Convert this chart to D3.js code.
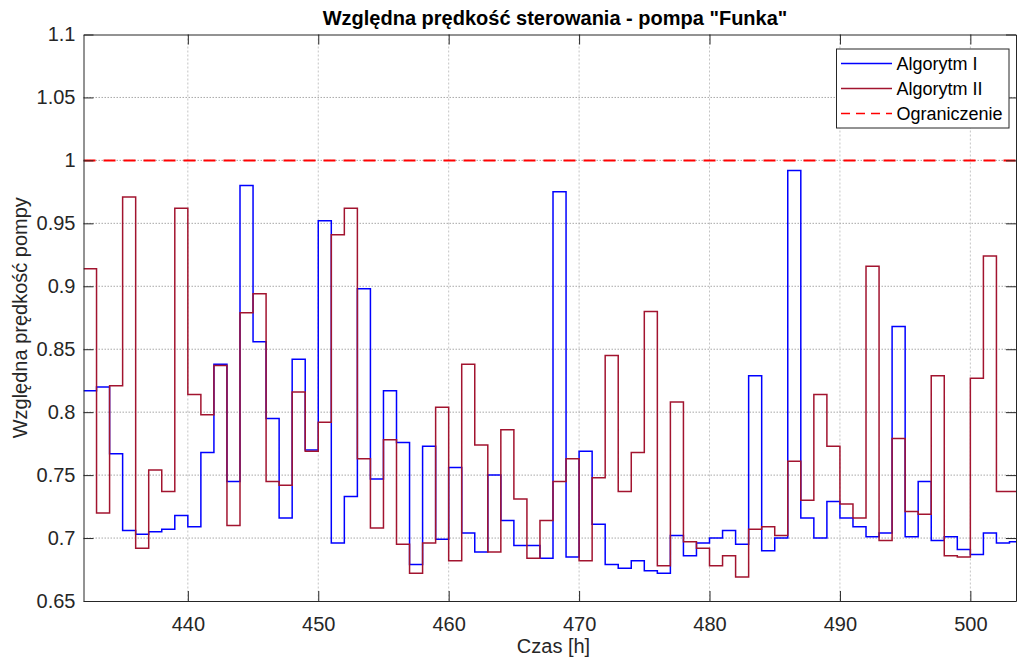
<!DOCTYPE html>
<html>
<head>
<meta charset="utf-8">
<script src="https://cdn.jsdelivr.net/npm/d3@7"></script>
<style>
  body { margin: 0; background: #fff; }
  text { font-family: "Liberation Sans", Arial, sans-serif; }
</style>
</head>
<body>
<script>
// hourly values, first hour = 432
const startHour = 432;
const algorytm1 = [
  0.817, 0.820, 0.767, 0.706, 0.703, 0.705, 0.707, 0.718, 0.709, 0.768,
  0.838, 0.745, 0.980, 0.856, 0.795, 0.716, 0.842, 0.770, 0.952, 0.696,
  0.733, 0.898, 0.747, 0.817, 0.776, 0.679, 0.773, 0.699, 0.756, 0.704,
  0.689, 0.750, 0.714, 0.694, 0.694, 0.684, 0.975, 0.685, 0.769, 0.711,
  0.679, 0.676, 0.682, 0.674, 0.672, 0.702, 0.686, 0.696, 0.700, 0.706,
  0.695, 0.829, 0.690, 0.700, 0.992, 0.716, 0.700, 0.729, 0.716, 0.709,
  0.701, 0.704, 0.868, 0.701, 0.745, 0.698, 0.701, 0.691, 0.687, 0.704,
  0.696, 0.697
];
const algorytm2 = [
  0.914, 0.720, 0.821, 0.971, 0.692, 0.754, 0.737, 0.962, 0.814, 0.798,
  0.837, 0.710, 0.879, 0.894, 0.745, 0.742, 0.816, 0.769, 0.792, 0.941,
  0.962, 0.763, 0.708, 0.778, 0.695, 0.672, 0.696, 0.804, 0.682, 0.838,
  0.774, 0.689, 0.786, 0.731, 0.684, 0.714, 0.745, 0.763, 0.682, 0.748,
  0.845, 0.737, 0.768, 0.880, 0.678, 0.808, 0.697, 0.692, 0.678, 0.686,
  0.669, 0.707, 0.709, 0.702, 0.761, 0.730, 0.814, 0.773, 0.727, 0.716,
  0.916, 0.698, 0.779, 0.721, 0.719, 0.829, 0.686, 0.685, 0.827, 0.924,
  0.737, 0.737
];
const ograniczenie = 1.0;
const xTicks = [440, 450, 460, 470, 480, 490, 500];
const yTicks = [0.65, 0.7, 0.75, 0.8, 0.85, 0.9, 0.95, 1, 1.05, 1.1];
const seriesNames = ["Algorytm I", "Algorytm II", "Ograniczenie"];
const seriesColors = ["#0000ff", "#a2142f", "#ff0000"];

const W = 1017, H = 666;
const pLeft = 83.5, pRight = 1016, pTop = 34.5, pBottom = 601;

const svg = d3.select("body").append("svg")
  .attr("width", W)
  .attr("height", H);

const x = d3.scaleLinear().domain([432, 503.5]).range([pLeft, pRight]);
const y = d3.scaleLinear().domain([0.65, 1.1]).range([pBottom, pTop]);

svg.append("defs").append("clipPath").attr("id", "clip")
  .append("rect")
    .attr("x", pLeft).attr("y", pTop)
    .attr("width", pRight - pLeft).attr("height", pBottom - pTop);

// grid
svg.append("g")
  .selectAll("line")
  .data(xTicks)
  .enter()
  .append("line")
    .attr("x1", d => x(d)).attr("x2", d => x(d))
    .attr("y1", pTop).attr("y2", pBottom)
    .attr("stroke", "#c4c4c4")
    .attr("stroke-dasharray", "2,2")
    .attr("stroke-width", 1);

svg.append("g")
  .selectAll("line")
  .data(yTicks.slice(1, -1))
  .enter()
  .append("line")
    .attr("x1", pLeft).attr("x2", pRight)
    .attr("y1", d => y(d)).attr("y2", d => y(d))
    .attr("stroke", "#a8a8a8")
    .attr("stroke-dasharray", "1.5,1.5")
    .attr("stroke-width", 1);

// step lines (value held over each hour)
const stepLine = d3.line()
  .x(d => x(d[0]))
  .y(d => y(d[1]))
  .curve(d3.curveStepAfter);

function toPoints(vals) {
  let pts = vals.map((v, i) => [startHour + i, v]);
  pts.push([startHour + vals.length, vals[vals.length - 1]]);
  return pts;
}

const plot = svg.append("g").attr("clip-path", "url(#clip)");

plot.append("path")
  .datum(toPoints(algorytm1))
  .attr("d", stepLine)
  .attr("fill", "none")
  .attr("stroke", seriesColors[0])
  .attr("stroke-width", 1.5);

plot.append("path")
  .datum(toPoints(algorytm2))
  .attr("d", stepLine)
  .attr("fill", "none")
  .attr("stroke", seriesColors[1])
  .attr("stroke-width", 1.5);

plot.append("line")
  .attr("x1", pLeft).attr("x2", pRight)
  .attr("y1", y(ograniczenie)).attr("y2", y(ograniczenie))
  .attr("stroke", seriesColors[2])
  .attr("stroke-width", 2)
  .attr("stroke-dasharray", "12,8");

// axes box with inward ticks
const axisColor = "#262626";
const fmt = d => String(d);

const gx = svg.append("g").attr("transform", `translate(0,${pBottom})`)
  .call(d3.axisBottom(x).tickValues(xTicks).tickSizeInner(-10).tickSizeOuter(0).tickPadding(16).tickFormat(fmt));
const gxTop = svg.append("g").attr("transform", `translate(0,${pTop})`)
  .call(d3.axisTop(x).tickValues(xTicks).tickSizeInner(-10).tickSizeOuter(0).tickFormat(""));
const gy = svg.append("g").attr("transform", `translate(${pLeft},0)`)
  .call(d3.axisLeft(y).tickValues(yTicks).tickSizeInner(-10).tickSizeOuter(0).tickPadding(8).tickFormat(fmt));
const gyR = svg.append("g").attr("transform", `translate(${pRight},0)`)
  .call(d3.axisRight(y).tickValues(yTicks).tickSizeInner(-10).tickSizeOuter(0).tickFormat(""));

[gx, gxTop, gy, gyR].forEach(g => {
  g.selectAll("path.domain").attr("stroke", axisColor);
  g.selectAll(".tick line").attr("stroke", axisColor);
  g.selectAll("text")
    .attr("fill", axisColor)
    .attr("font-family", "Liberation Sans, Arial, sans-serif")
    .attr("font-size", "20px");
});

// titles
svg.append("text")
  .attr("x", 555)
  .attr("y", 25)
  .attr("text-anchor", "middle")
  .attr("font-size", "20px")
  .attr("font-weight", "bold")
  .attr("fill", "#000")
  .text("Względna prędkość sterowania - pompa \"Funka\"");

svg.append("text")
  .attr("x", 553.5)
  .attr("y", 653)
  .attr("text-anchor", "middle")
  .attr("font-size", "20px")
  .attr("fill", axisColor)
  .text("Czas [h]");

svg.append("text")
  .attr("text-anchor", "middle")
  .attr("font-size", "20px")
  .attr("fill", axisColor)
  .attr("transform", `translate(27,${(pTop + pBottom) / 2}) rotate(-90)`)
  .text("Względna prędkość pompy");

// legend
const lg = svg.append("g");
lg.append("rect")
  .attr("x", 836.5).attr("y", 49)
  .attr("width", 172.5).attr("height", 79)
  .attr("fill", "#fff")
  .attr("stroke", axisColor)
  .attr("stroke-width", 1);

const rows = lg.selectAll("g.row")
  .data(seriesNames)
  .enter()
  .append("g")
    .attr("transform", (d, i) => `translate(0,${63.5 + i * 25})`);

rows.append("line")
  .attr("x1", 841).attr("x2", 892)
  .attr("y1", 0).attr("y2", 0)
  .attr("stroke", (d, i) => seriesColors[i])
  .attr("stroke-width", 1.5)
  .attr("stroke-dasharray", (d, i) => i == 2 ? "9,6" : null);

rows.append("text")
  .attr("x", 896.5)
  .attr("y", 6.5)
  .attr("font-size", "18px")
  .attr("fill", "#000")
  .text(d => d);
</script>
</body>
</html>
